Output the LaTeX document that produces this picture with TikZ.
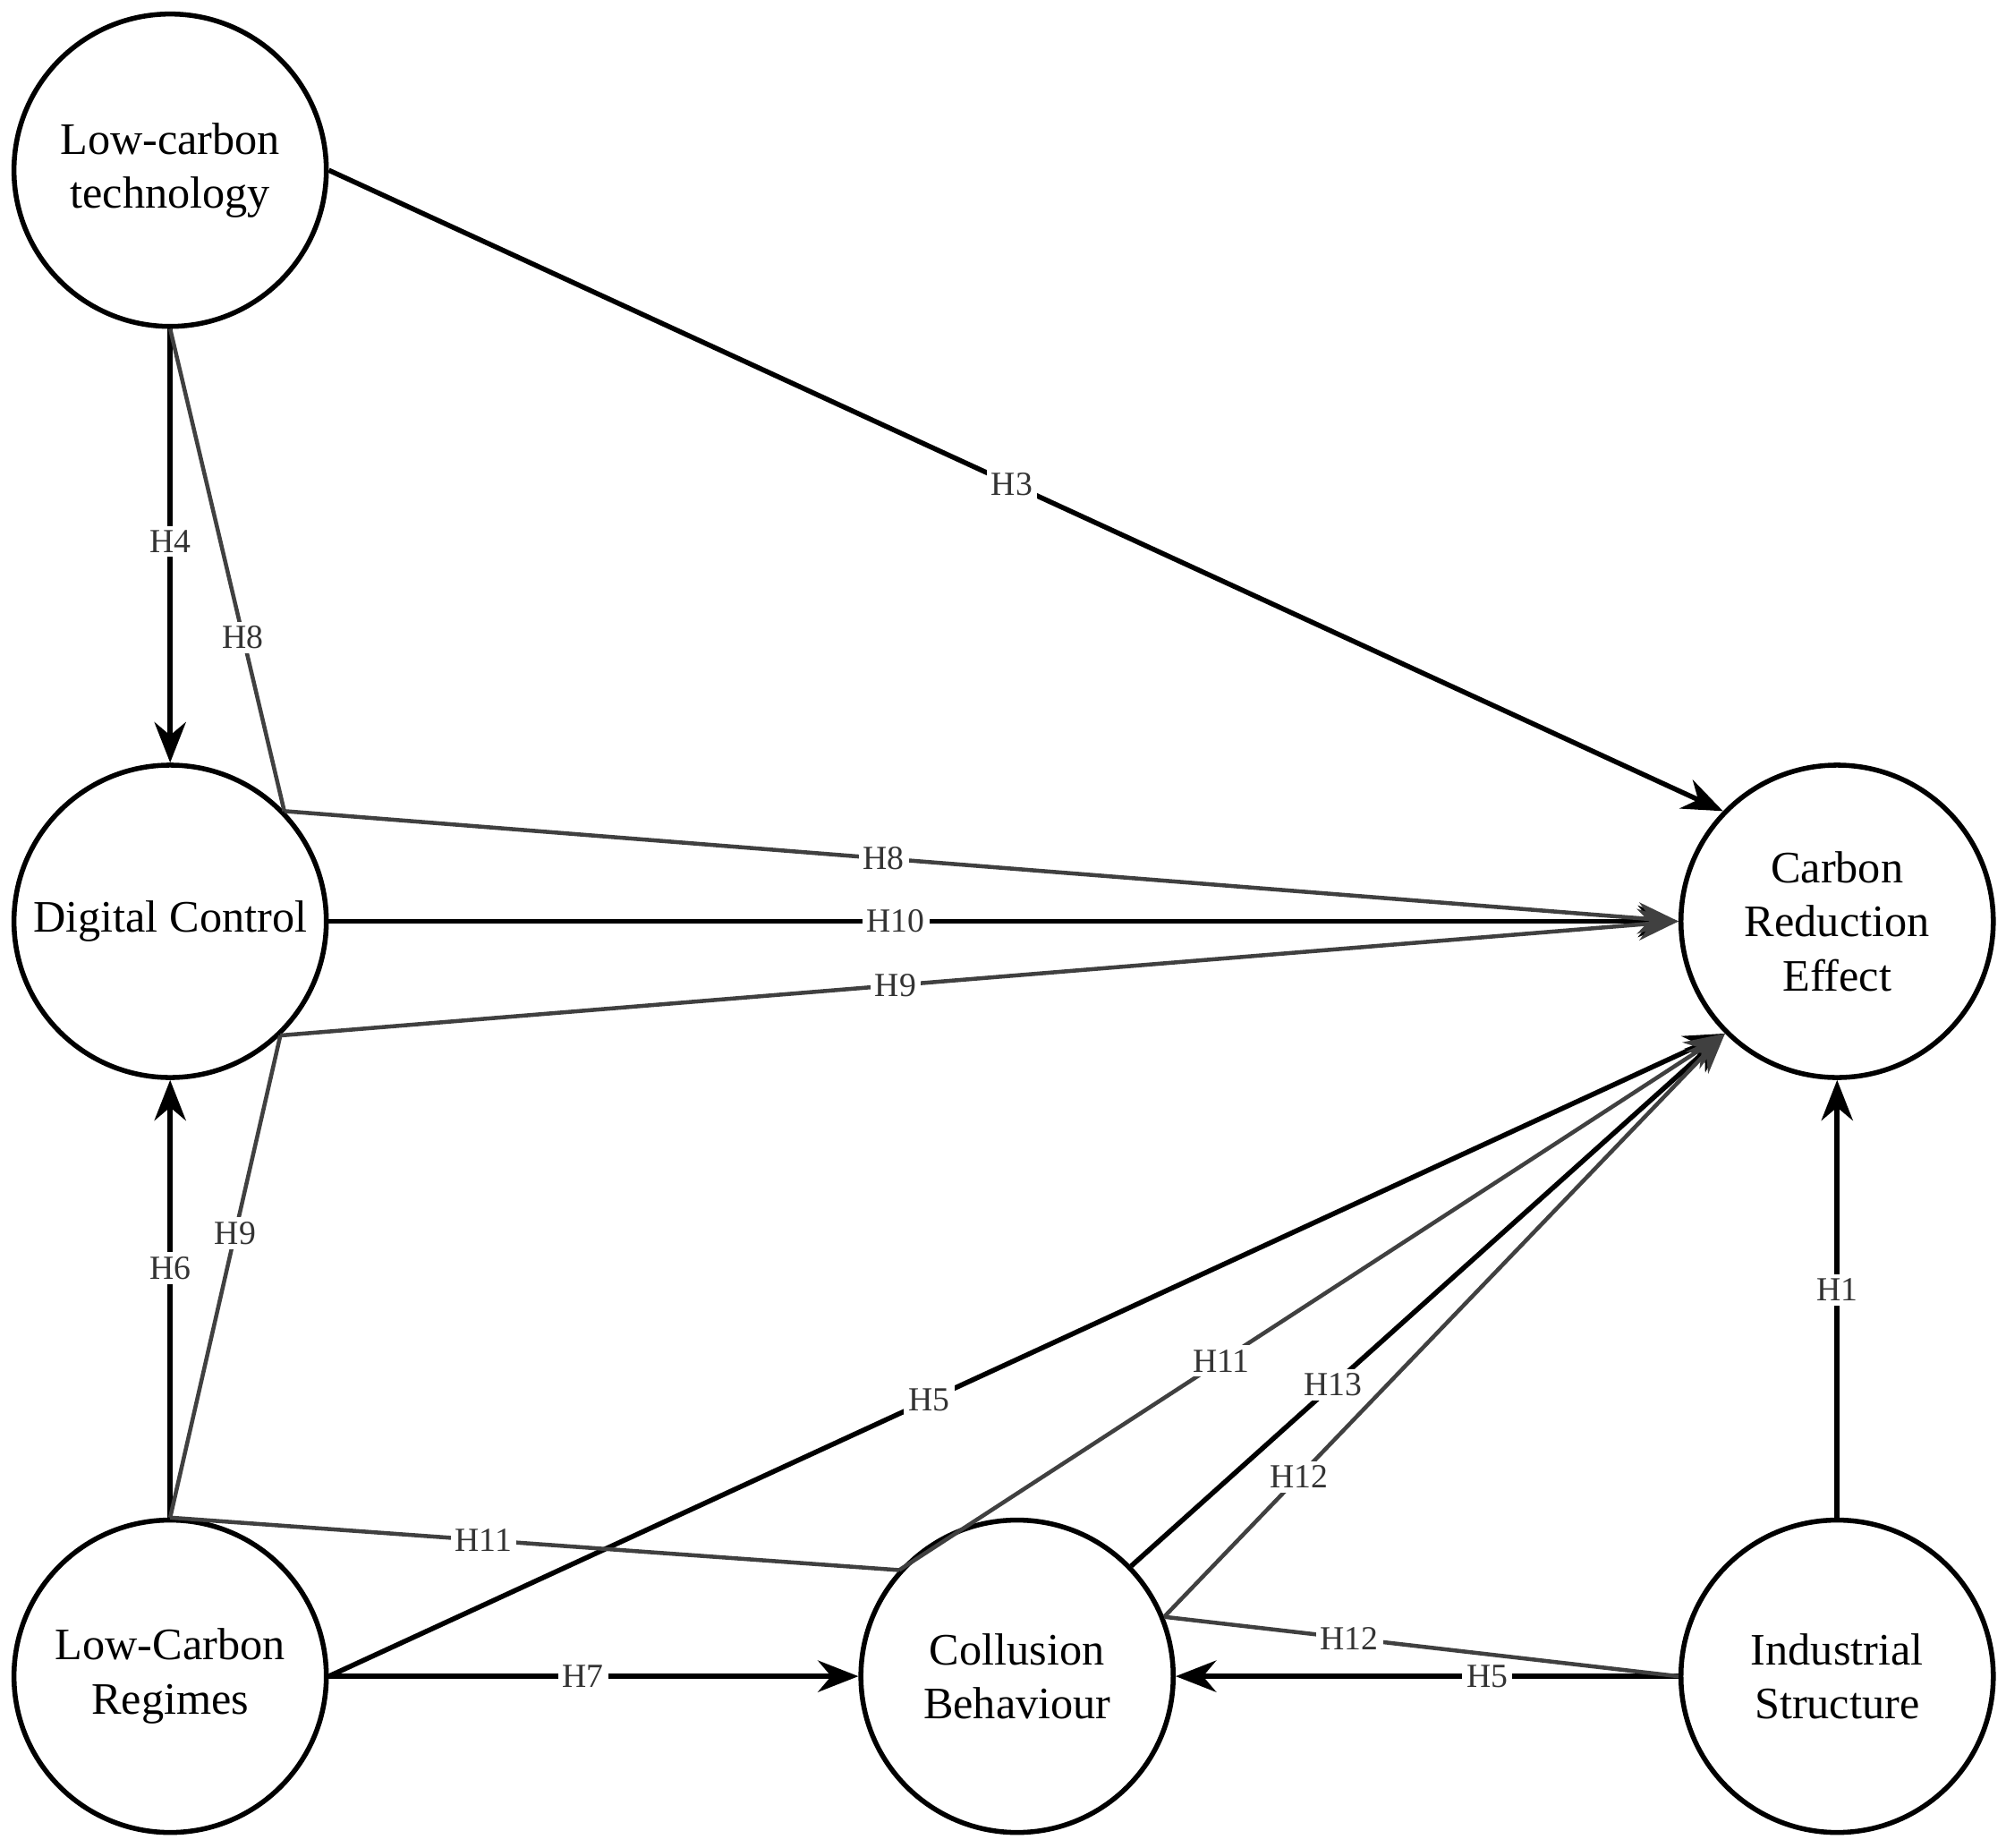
\documentclass[tikz,border=0pt]{standalone}
\usepackage{fontspec}
\setmainfont{Liberation Serif}
\usetikzlibrary{arrows.meta}

\tikzset{
  construct/.style={circle, draw, line width=1.1pt, minimum size=2.44cm, inner sep=0pt,
    align=center, font=\fontsize{10}{12}\selectfont},
  path/.style={line width=1.1pt, -{Stealth[length=9pt, width=7pt]}},
  link/.style={line width=0.9pt, draw=black!75},
  linkarrow/.style={link, -{Stealth[length=9pt, width=7pt]}},
  hyp/.style={fill=white, inner sep=1pt, font=\fontsize{7.5}{8}\selectfont, text=black!80}
}

\begin{document}
\begin{tikzpicture}[x=0.01cm, y=-0.01cm]
\useasboundingbox (0,0) rectangle (1568,1444);

% The constructs
\node [construct] (lct) at (133,133) {Low-carbon\\technology};
\node [construct] (dc)  at (133,720) {Digital Control};
\node [construct] (cre) at (1436,720) {Carbon\\Reduction\\Effect};
\node [construct] (lcr) at (133,1310) {Low-Carbon\\Regimes};
\node [construct] (cb)  at (795,1310) {Collusion\\Behaviour};
\node [construct] (is)  at (1436,1310) {Industrial\\Structure};

% Direct paths
\draw [path] (lct.south) -- node[hyp, pos=0.49]{H4} (dc.north);
\draw [path] (lct.east) -- node[hyp, pos=0.49]{H3} (cre.136);
\draw [path] (dc.east) -- node[hyp, pos=0.42]{H10} (cre.west);
\draw [path] (lcr.north) -- node[hyp, pos=0.57]{H6} (dc.south);
\draw [path] (lcr.east) -- node[hyp, pos=0.48]{H7} (cb.west);
\draw [path] (lcr.east) -- node[hyp, pos=0.43]{H5} (cre.225);
\draw [path] (is.west) -- node[hyp, pos=0.38]{H5} (cb.east);
\draw [path] (is.north) -- node[hyp, pos=0.52]{H1} (cre.south);
\draw [path] (cb.44) -- node[hyp, pos=0.34]{H13} (cre.225);

% Mediated paths
\draw [link] (lct.south) -- node[hyp, pos=0.64]{H8} (dc.44);
\draw [linkarrow] (dc.44) -- node[hyp, pos=0.43]{H8} (cre.west);
\draw [link] (lcr.north) -- node[hyp, pos=0.59]{H9} (dc.-46);
\draw [linkarrow] (dc.-46) -- node[hyp, pos=0.44]{H9} (cre.west);
\draw [link] (lcr.north) -- node[hyp, pos=0.43]{H11} (cb.138);
\draw [linkarrow] (cb.138) -- node[hyp, pos=0.39]{H11} (cre.225);
\draw [link] (is.west) -- node[hyp, pos=0.64]{H12} (cb.22);
\draw [linkarrow] (cb.22) -- node[hyp, pos=0.24]{H12} (cre.225);

\end{tikzpicture}
\end{document}
